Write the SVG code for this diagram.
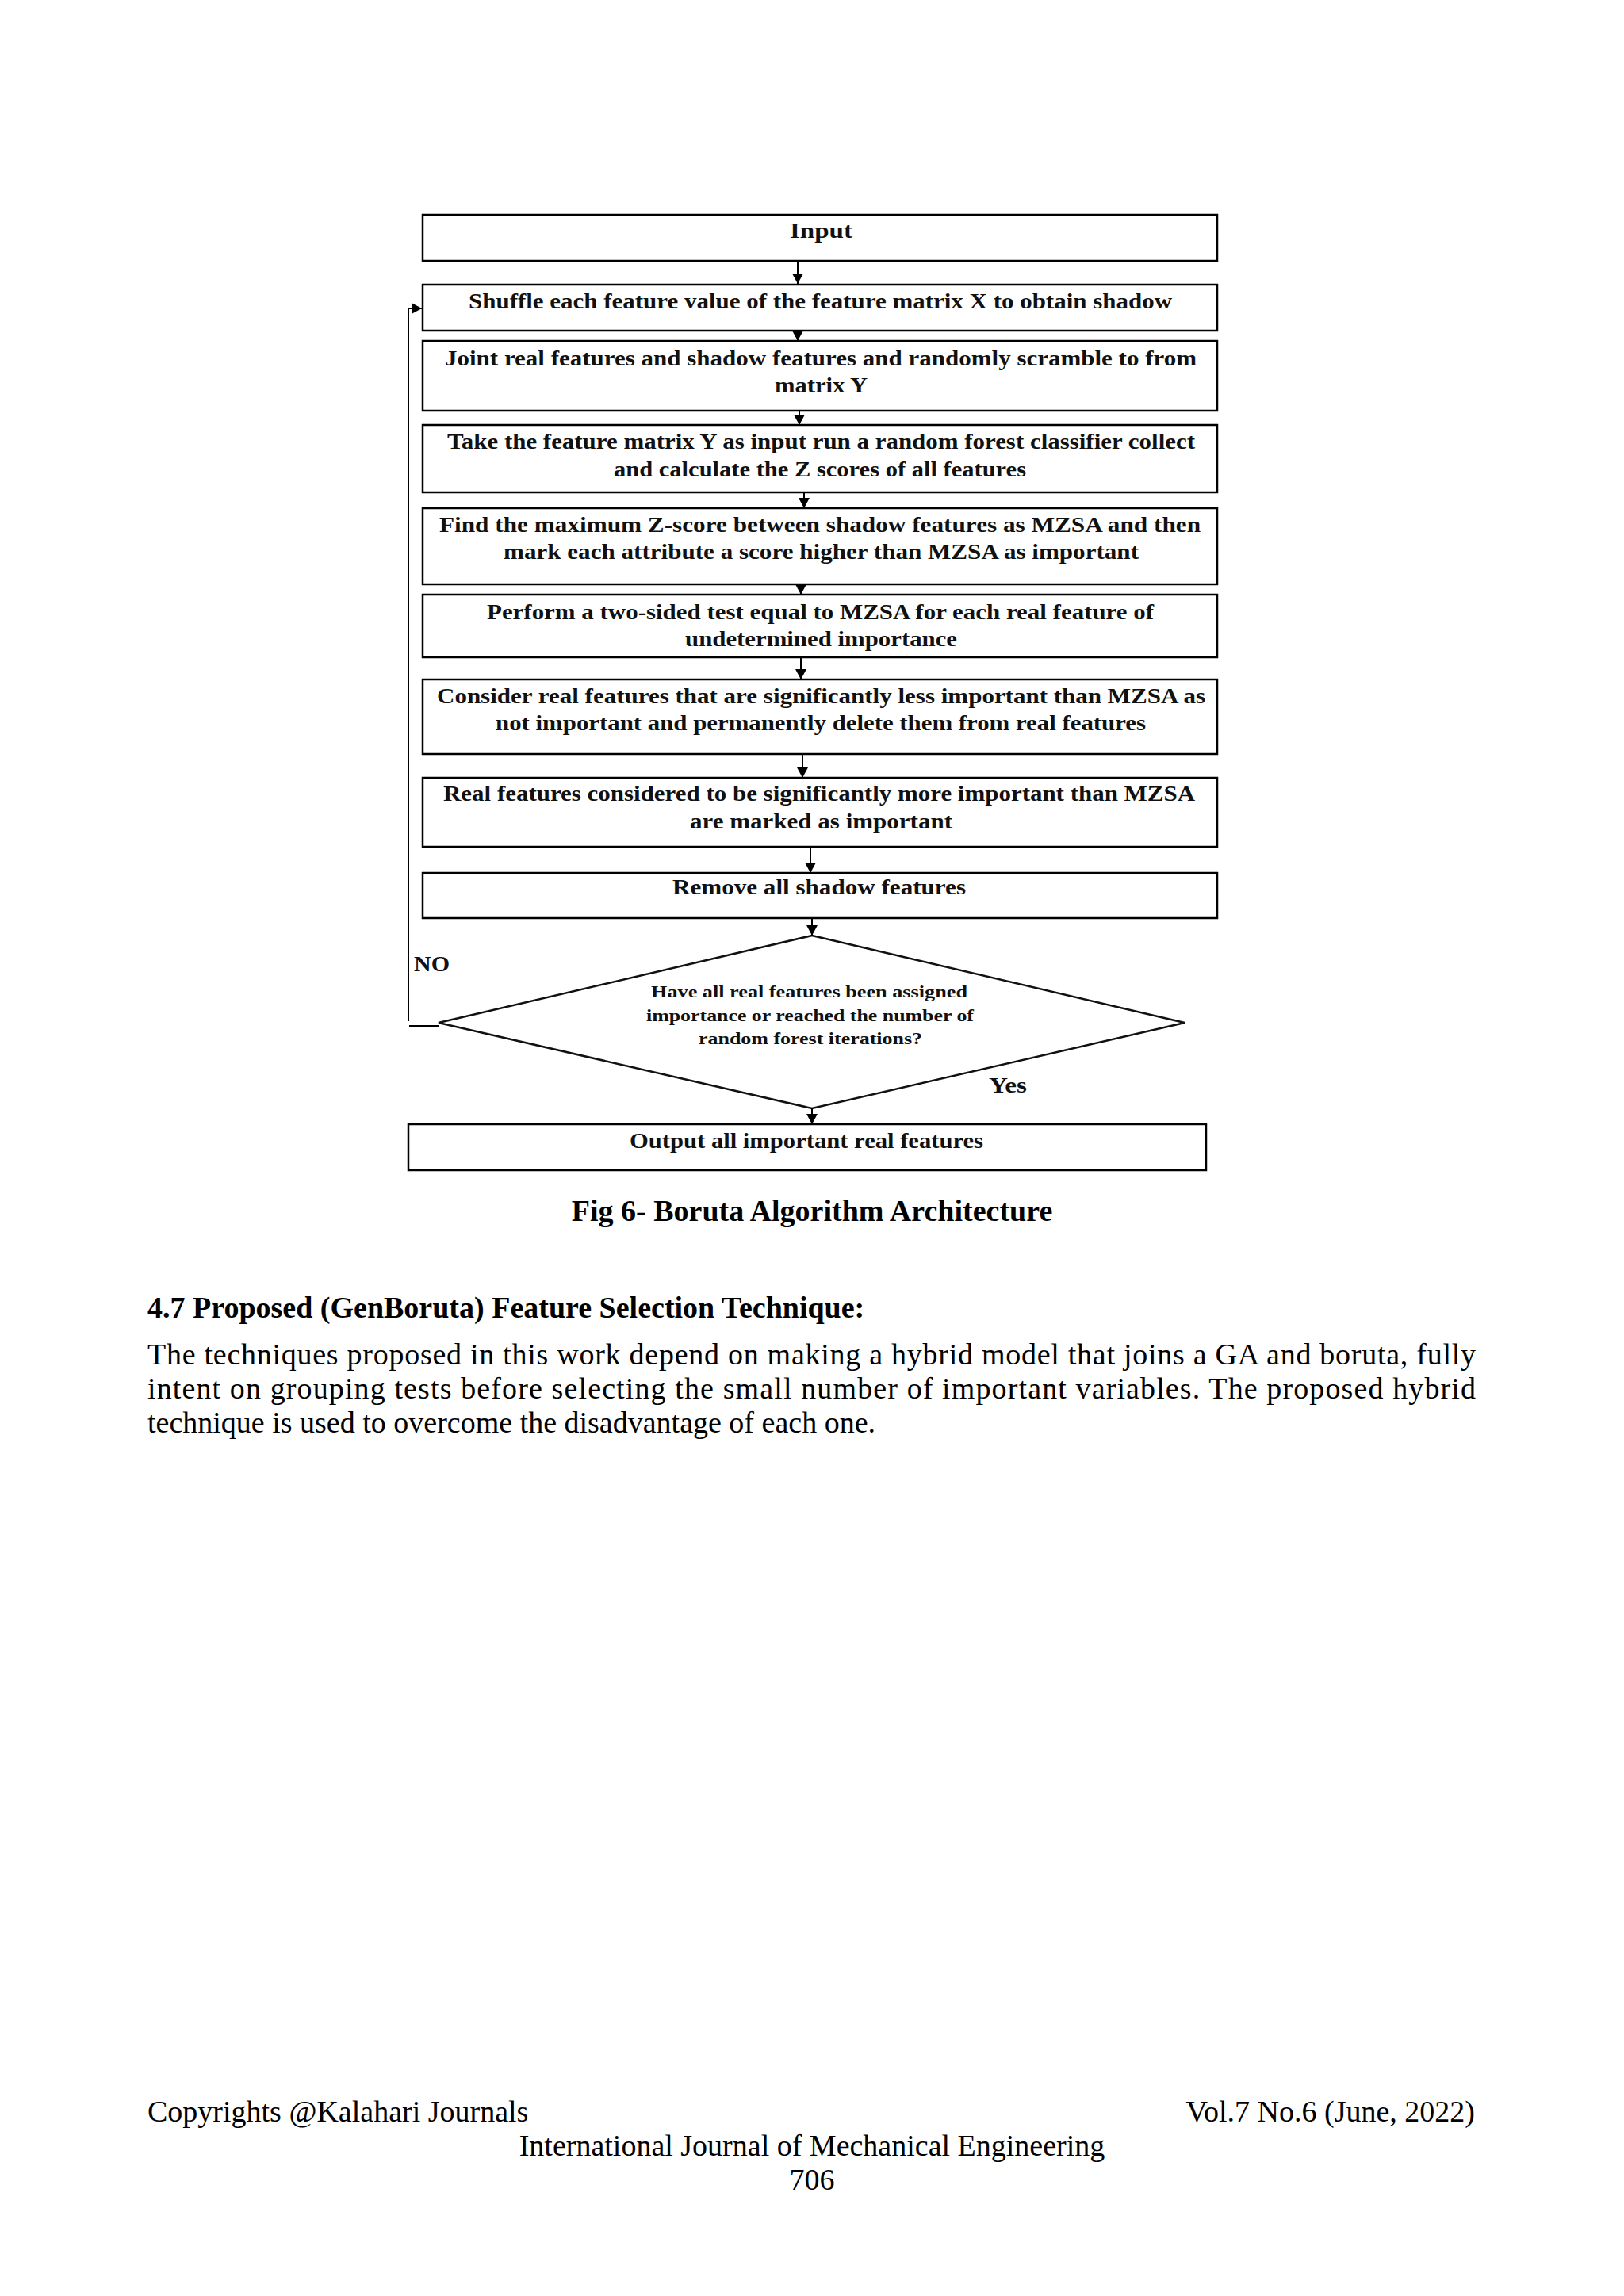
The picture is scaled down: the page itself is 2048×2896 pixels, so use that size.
<svg xmlns="http://www.w3.org/2000/svg" width="2048" height="2896" viewBox="0 0 2048 2896">
<style>
.box{fill:#fff;stroke:#000;stroke-width:2.5}
.dia{fill:#fff;stroke:#111;stroke-width:2.5}
.bt{font-family:"Liberation Serif","Times New Roman",serif;font-weight:bold;font-size:27px;fill:#111}
.dt{font-family:"Liberation Serif","Times New Roman",serif;font-weight:bold;font-size:22px;fill:#111}
.lbl{font-family:"Liberation Serif","Times New Roman",serif;font-weight:bold;font-size:27px;fill:#111}
.con{fill:none;stroke:#000;stroke-width:2}
.pt{font-family:"Liberation Serif","Times New Roman",serif;font-size:38px;fill:#000}
.ph{font-family:"Liberation Serif","Times New Roman",serif;font-size:38px;font-weight:bold;fill:#000}
</style>
<defs>
<marker id="arr" markerUnits="userSpaceOnUse" markerWidth="14" markerHeight="14" viewBox="0 0 14 14" refX="13" refY="7" orient="auto">
<path d="M0,0 L13,7 L0,14 Z" fill="#000"/>
</marker>
</defs>
<rect width="2048" height="2896" fill="#fff"/>

<g id="n-input"><rect class="box" x="533" y="271" width="1002" height="58"/>
<text class="bt" x="996" y="300" textLength="79" lengthAdjust="spacingAndGlyphs">Input</text></g>

<g id="n-shuffle"><rect class="box" x="533" y="359" width="1002" height="58"/>
<text class="bt" x="591" y="389" textLength="887" lengthAdjust="spacingAndGlyphs">Shuffle each feature value of the feature matrix X to obtain shadow</text></g>

<g id="n-joint"><rect class="box" x="533" y="430" width="1002" height="88"/>
<text class="bt" x="561" y="461" textLength="948" lengthAdjust="spacingAndGlyphs">Joint real features and shadow features and randomly scramble to from</text>
<text class="bt" x="977" y="495" textLength="117" lengthAdjust="spacingAndGlyphs">matrix Y</text></g>

<g id="n-take"><rect class="box" x="533" y="536" width="1002" height="85"/>
<text class="bt" x="564" y="566" textLength="943" lengthAdjust="spacingAndGlyphs">Take the feature matrix Y as input run a random forest classifier collect</text>
<text class="bt" x="774" y="601" textLength="520" lengthAdjust="spacingAndGlyphs">and calculate the Z scores of all features</text></g>

<g id="n-find"><rect class="box" x="533" y="641" width="1002" height="96"/>
<text class="bt" x="554" y="671" textLength="960" lengthAdjust="spacingAndGlyphs">Find the maximum Z-score between shadow features as MZSA and then</text>
<text class="bt" x="635" y="705" textLength="801" lengthAdjust="spacingAndGlyphs">mark each attribute a score higher than MZSA as important</text></g>

<g id="n-perform"><rect class="box" x="533" y="750" width="1002" height="79"/>
<text class="bt" x="614" y="781" textLength="841" lengthAdjust="spacingAndGlyphs">Perform a two-sided test equal to MZSA for each real feature of</text>
<text class="bt" x="864" y="815" textLength="343" lengthAdjust="spacingAndGlyphs">undetermined importance</text></g>

<g id="n-consider"><rect class="box" x="533" y="857" width="1002" height="94"/>
<text class="bt" x="551" y="887" textLength="969" lengthAdjust="spacingAndGlyphs">Consider real features that are significantly less important than MZSA as</text>
<text class="bt" x="625" y="921" textLength="820" lengthAdjust="spacingAndGlyphs">not important and permanently delete them from real features</text></g>

<g id="n-real"><rect class="box" x="533" y="981" width="1002" height="87"/>
<text class="bt" x="559" y="1010" textLength="948" lengthAdjust="spacingAndGlyphs">Real features considered to be significantly more important than MZSA</text>
<text class="bt" x="870" y="1045" textLength="331" lengthAdjust="spacingAndGlyphs">are marked as important</text></g>

<g id="n-remove"><rect class="box" x="533" y="1101" width="1002" height="57"/>
<text class="bt" x="848" y="1128" textLength="370" lengthAdjust="spacingAndGlyphs">Remove all shadow features</text></g>

<g id="n-decision"><polygon class="dia" points="1024,1180 1494,1290 1024,1398 553,1290"/>
<text class="dt" x="821" y="1258" textLength="399" lengthAdjust="spacingAndGlyphs">Have all real features been assigned</text>
<text class="dt" x="815" y="1288" textLength="413" lengthAdjust="spacingAndGlyphs">importance or reached the number of</text>
<text class="dt" x="881" y="1317" textLength="282" lengthAdjust="spacingAndGlyphs">random forest iterations?</text></g>

<g id="n-output"><rect class="box" x="515" y="1418" width="1006" height="58"/>
<text class="bt" x="794" y="1448" textLength="446" lengthAdjust="spacingAndGlyphs">Output all important real features</text></g>

<g id="connectors">
<line class="con" x1="1006" y1="329" x2="1006" y2="358" marker-end="url(#arr)"/>
<line class="con" x1="1006" y1="417" x2="1006" y2="430" marker-end="url(#arr)"/>
<line class="con" x1="1008" y1="518" x2="1008" y2="536" marker-end="url(#arr)"/>
<line class="con" x1="1014" y1="621" x2="1014" y2="641" marker-end="url(#arr)"/>
<line class="con" x1="1010" y1="737" x2="1010" y2="750" marker-end="url(#arr)"/>
<line class="con" x1="1010" y1="829" x2="1010" y2="857" marker-end="url(#arr)"/>
<line class="con" x1="1012" y1="951" x2="1012" y2="981" marker-end="url(#arr)"/>
<line class="con" x1="1022" y1="1068" x2="1022" y2="1101" marker-end="url(#arr)"/>
<line class="con" x1="1024" y1="1158" x2="1024" y2="1180" marker-end="url(#arr)"/>
<line class="con" x1="1024" y1="1398" x2="1024" y2="1418" marker-end="url(#arr)"/>
<path class="con" d="M553,1294 H516 M515,1288 V389 H532" marker-end="url(#arr)"/>
<text class="lbl" x="522" y="1225" textLength="45" lengthAdjust="spacingAndGlyphs">NO</text>
<text class="lbl" x="1247" y="1378" textLength="48" lengthAdjust="spacingAndGlyphs">Yes</text>
</g>

<text class="ph" x="1024" y="1540" text-anchor="middle">Fig 6- Boruta Algorithm Architecture</text>
<text class="ph" x="186" y="1662">4.7 Proposed (GenBoruta) Feature Selection Technique:</text>
<text class="pt" x="186" y="1721" textLength="1675" lengthAdjust="spacing">The techniques proposed in this work depend on making a hybrid model that joins a GA and boruta, fully</text>
<text class="pt" x="186" y="1764" textLength="1675" lengthAdjust="spacing">intent on grouping tests before selecting the small number of important variables. The proposed hybrid</text>
<text class="pt" x="186" y="1807">technique is used to overcome the disadvantage of each one.</text>

<text class="pt" x="186" y="2676">Copyrights @Kalahari Journals</text>
<text class="pt" x="1860" y="2676" text-anchor="end">Vol.7 No.6 (June, 2022)</text>
<text class="pt" x="1024" y="2719" text-anchor="middle">International Journal of Mechanical Engineering</text>
<text class="pt" x="1024" y="2762" text-anchor="middle">706</text>
</svg>
